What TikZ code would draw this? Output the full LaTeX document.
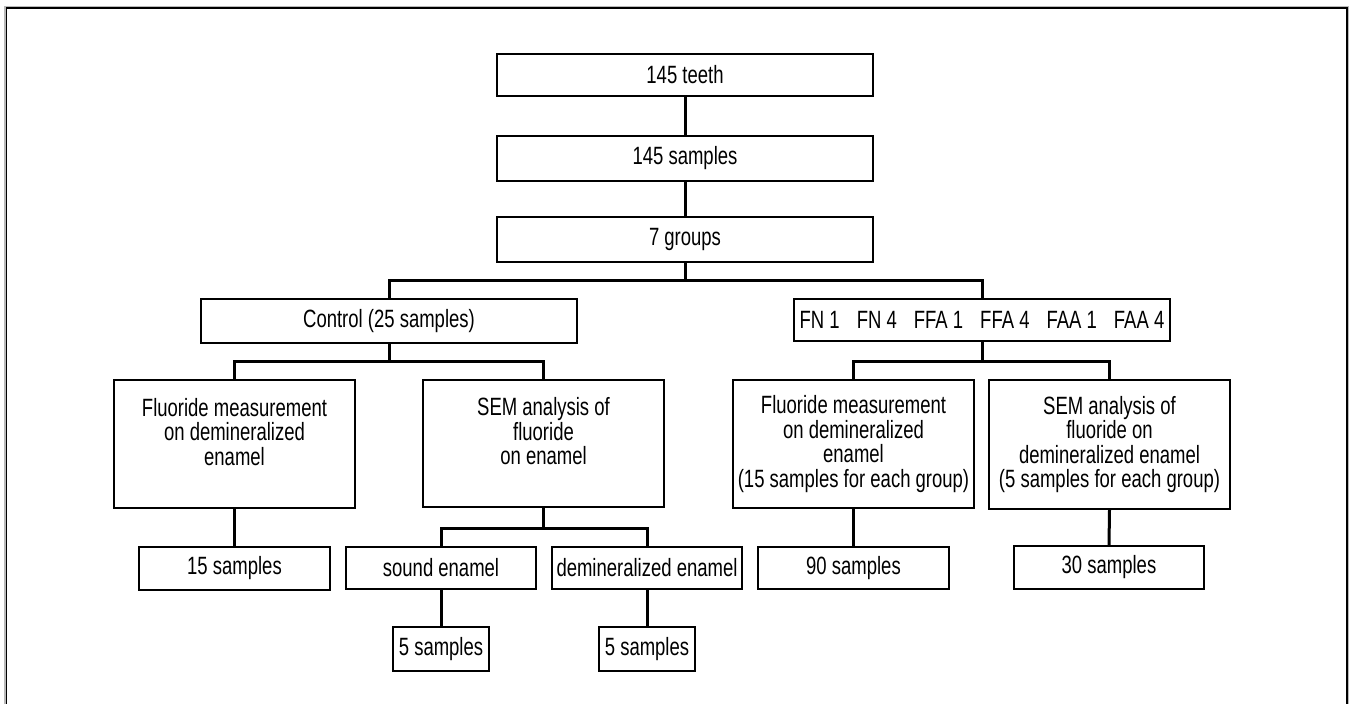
\documentclass[tikz,border=0pt]{standalone}
\usepackage{fontspec}
\setmainfont{Liberation Sans}[FakeStretch=0.74]
\begin{document}
\begin{tikzpicture}[x=1pt,y=-1pt,
  box/.style={draw=black, line width=1.4pt, inner sep=0pt, align=center,
    font=\fontsize{25}{24.5}\selectfont},
  conn/.style={draw=black, line width=3pt, line join=miter},
  frameline/.style={line width=1.5pt}]
\useasboundingbox (0,0) rectangle (1350,704);
% outer frame (no bottom edge visible)
\draw[frameline, gray!55] (4.8,704) -- (4.8,6.3) -- (1348.6,6.3) -- (1348.6,704);
\draw[frameline, black] (6.4,704) -- (6.4,7.9) -- (1347,7.9) -- (1347,704);

% top chain
\node[box, minimum width=376pt, minimum height=42pt] (teeth) at (685,75) {145 teeth};
\node[box, minimum width=376pt, minimum height=45pt] (samples) at (685,158.5) {145 samples};
\node[box, minimum width=376pt, minimum height=45pt] (groups) at (685,239.5) {7 groups};

% second level
\node[box, minimum width=376pt, minimum height=44pt] (ctrl) at (389,321) {Control (25 samples)};
\node[box, minimum width=376pt, minimum height=42pt] (fn) at (982,320)
  {FN 1\hspace{17pt}FN 4\hspace{17pt}FFA 1\hspace{17pt}FFA 4\hspace{17pt}FAA 1\hspace{17pt}FAA 4};

% third level
\node[box, minimum width=241pt, minimum height=128pt] (flL) at (234.5,444)
  {Fluoride measurement\\on demineralized\\enamel\\\mbox{}};
\node[box, minimum width=241pt, minimum height=127pt] (semL) at (543.5,443.5)
  {SEM analysis of\\fluoride\\on enamel\\\mbox{}};
\node[box, minimum width=241pt, minimum height=128pt] (flR) at (853.5,444)
  {Fluoride measurement\\on demineralized\\enamel\\(15 samples for each group)};
\node[box, minimum width=241pt, minimum height=129pt] (semR) at (1109.5,444.5)
  {SEM analysis of\\fluoride on\\demineralized enamel\\(5 samples for each group)};

% fourth level
\node[box, minimum width=191pt, minimum height=43pt] (s15) at (234.5,568.5) {15 samples};
\node[box, minimum width=190pt, minimum height=42pt] (sound) at (441,568) {sound enamel};
\node[box, minimum width=190pt, minimum height=42pt] (demin) at (647,568) {demineralized enamel};
\node[box, minimum width=191pt, minimum height=42pt] (s90) at (853.5,568) {90 samples};
\node[box, minimum width=190pt, minimum height=43pt] (s30) at (1109,567.5) {30 samples};

% fifth level
\node[box, minimum width=96pt, minimum height=44pt] (s5a) at (441,649) {5 samples};
\node[box, minimum width=96pt, minimum height=44pt] (s5b) at (647,649) {5 samples};

% connectors
\draw[conn] (teeth.south) -- (samples.north);
\draw[conn] (samples.south) -- (groups.north);

\coordinate (b1) at (685,280);
\draw[conn] (groups.south) -- (b1);
\draw[conn] (b1) -| (ctrl.north);
\draw[conn] (b1) -| (fn.north);

\coordinate (b2) at (389,361.7);
\draw[conn] (ctrl.south) -- (b2);
\draw[conn] (b2) -| (flL.north);
\draw[conn] (b2) -| (semL.north);

\coordinate (b3) at (982,361.7);
\draw[conn] (fn.south) -- (b3);
\draw[conn] (b3) -| (flR.north);
\draw[conn] (b3) -| (semR.north);

\draw[conn] (flL.south) -- (s15.north);

\coordinate (b4) at (543.5,528.3);
\draw[conn] (semL.south) -- (b4);
\draw[conn] (b4) -| (sound.north);
\draw[conn] (b4) -| (demin.north);

\draw[conn] (flR.south) -- (s90.north);
\draw[conn] (semR.south) -- (s30.north);

\draw[conn] (sound.south) -- (s5a.north);
\draw[conn] (demin.south) -- (s5b.north);
\end{tikzpicture}
\end{document}
